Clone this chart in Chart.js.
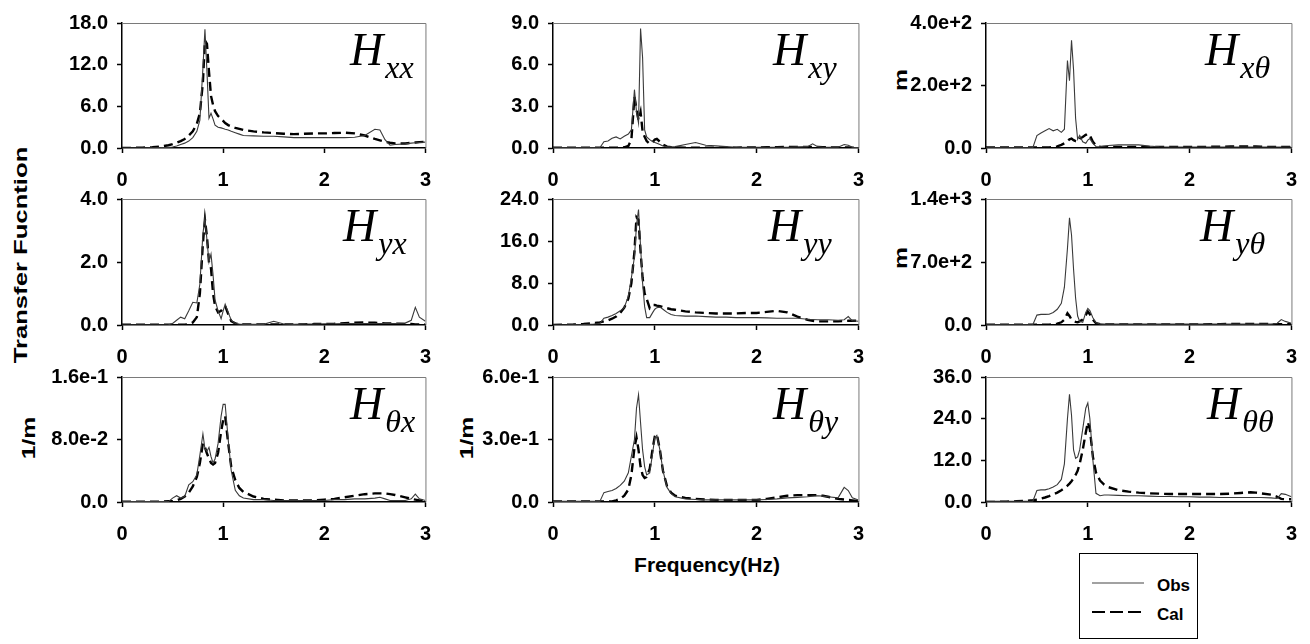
<!DOCTYPE html>
<html>
<head>
<meta charset="utf-8">
<script src="https://cdn.jsdelivr.net/npm/chart.js@4.4.1/dist/chart.umd.min.js"></script>
<style>
  body { margin: 0; background: #fff; }
  #fig { position: relative; width: 1310px; height: 644px; overflow: hidden;
         font-family: "Liberation Sans", Arial, sans-serif; background: #fff; }
  #fig canvas { position: absolute; }
  .lab { position: absolute; font-weight: bold; color: #000; white-space: nowrap; line-height: 1; }
  .rot { transform: translate(-50%, -50%) rotate(-90deg) scaleX(var(--sx, 1)); }
  .ctr { transform: translate(-50%, -50%); }
  #legend { position: absolute; left: 1079px; top: 553px; width: 119px; height: 86px;
            border: 1px solid #000; box-sizing: border-box; }
  #legend svg { position: absolute; left: 0; top: 0; }
  #legend span { position: absolute; left: 77px; font-weight: bold; font-size: 17px; line-height: 1; }
</style>
</head>
<body>
<div id="fig">
  <div class="lab rot" style="left:20px; top:255px; font-size:19px; --sx:1.35;">Transfer Fucntion</div>
  <div class="lab rot" style="left:28px; top:438px; font-size:19px; --sx:1.3;">1/m</div>
  <div class="lab rot" style="left:466px; top:438px; font-size:19px; --sx:1.3;">1/m</div>
  <div class="lab rot" style="left:900px; top:80px; font-size:19px; --sx:1.3;">m</div>
  <div class="lab rot" style="left:900px; top:258px; font-size:19px; --sx:1.3;">m</div>
  <div class="lab ctr" style="left:707px; top:564px; font-size:21px;">Frequency(Hz)</div>
  <div id="legend">
    <svg width="119" height="86">
      <line x1="12" y1="29" x2="64" y2="29" stroke="#444" stroke-width="1.2"/>
      <line x1="12" y1="58" x2="64" y2="58" stroke="#000" stroke-width="2" stroke-dasharray="13 5"/>
    </svg>
    <span style="top:23px;">Obs</span>
    <span style="top:52px;">Cal</span>
  </div>
</div>
<script>
// Frequency grid (Hz) shared by every curve
const freq = [0, 0.1, 0.2, 0.3, 0.4, 0.46,
  0.5, 0.54, 0.58, 0.62, 0.66, 0.7, 0.74, 0.77,
  0.8, 0.82, 0.84, 0.86, 0.88, 0.9, 0.92, 0.95, 0.98,
  1.0, 1.02, 1.05, 1.08, 1.12, 1.16, 1.2,
  1.3, 1.4, 1.5, 1.6, 1.7, 1.8, 1.9, 2.0,
  2.1, 2.2, 2.3, 2.4, 2.5, 2.55, 2.6, 2.65, 2.7,
  2.8, 2.86, 2.9, 2.94, 3.0];

// H_xx
const hxxObs = [0, 0, 0, 0.02, 0.05, 0.08,
  0.15, 0.3, 0.5, 0.7, 1.0, 1.5, 2.4, 4.0,
  11.5, 17.1, 11.0, 4.3, 5.0, 4.2, 3.3, 3.0, 2.9,
  2.8, 2.7, 2.6, 2.4, 2.2, 2.0, 1.8,
  1.75, 1.7, 1.7, 1.6, 1.5, 1.5, 1.5, 1.5,
  1.5, 1.5, 1.55, 1.8, 2.7, 2.6, 1.2, 0.4, 0.5,
  0.6, 0.7, 0.75, 0.8, 0.85];
const hxxCal = [0, 0.02, 0.05, 0.1, 0.25, 0.4,
  0.55, 0.75, 1.0, 1.3, 1.8, 2.4, 3.5, 5.0,
  9.5, 15.5, 15.0, 11.0, 7.5, 6.2, 5.3, 4.6, 4.2,
  3.9, 3.6, 3.3, 3.1, 2.9, 2.75, 2.6,
  2.4, 2.25, 2.15, 2.05, 2.0, 2.05, 2.1, 2.1,
  2.15, 2.2, 2.1, 1.8, 1.3, 1.1, 0.9, 0.75, 0.65,
  0.65, 0.75, 0.8, 0.85, 0.9];

// H_xy
const hxyObs = [0.02, 0.02, 0.02, 0.02, 0.02, 0.02,
  0.45, 0.5, 0.7, 0.8, 0.65, 0.85, 1.0, 1.3,
  4.2, 2.6, 1.8, 8.6, 6.5, 1.3, 0.8, 0.6, 0.45,
  0.4, 0.35, 0.25, 0.15, 0.08, 0.08, 0.1,
  0.25, 0.4, 0.2, 0.15, 0.1, 0.05, 0.05, 0.05,
  0.05, 0.05, 0.05, 0.08, 0.1, 0.3, 0.1, 0.05, 0.05,
  0.05, 0.25, 0.2, 0.05, 0.03];
const hxyCal = [0.03, 0.03, 0.03, 0.03, 0.03, 0.03,
  0.03, 0.03, 0.03, 0.03, 0.03, 0.05, 0.15, 0.6,
  3.7, 2.8, 2.0, 2.6, 1.2, 0.8, 0.5, 0.3, 0.45,
  0.6, 0.65, 0.45, 0.25, 0.1, 0.05, 0.04,
  0.03, 0.03, 0.03, 0.03, 0.03, 0.03, 0.04, 0.04,
  0.05, 0.06, 0.08, 0.08, 0.08, 0.08, 0.07, 0.06, 0.05,
  0.04, 0.04, 0.04, 0.03, 0.03];

// H_xθ
const hxtObs = [1, 1, 1, 1, 1, 1,
  40, 48, 55, 62, 55, 60, 50, 60,
  280, 215, 345, 250, 95, 28, 40, 20, 15,
  25, 30, 15, 5, 4, 6, 8,
  10, 10, 10, 6, 4, 3, 3, 3,
  3, 3, 3, 3, 3, 3, 3, 3, 3,
  3, 3, 3, 3, 3];
const hxtCal = [2, 2, 2, 2, 2, 2,
  2, 2, 2, 2, 3, 5, 10, 15,
  22, 28, 30, 25, 22, 20, 30, 35, 42,
  46, 40, 20, 8, 4, 3, 3,
  3, 3, 3, 3, 3, 3, 3, 3,
  3, 4, 4, 5, 5, 5, 5, 5, 4,
  3, 3, 3, 3, 3];

// H_yx
const hyxObs = [0, 0, 0, 0, 0, 0.01,
  0.05, 0.15, 0.25, 0.2, 0.45, 0.72, 0.7, 1.3,
  2.9, 3.4, 2.7, 2.0, 2.25, 1.6, 0.8, 0.45, 0.2,
  0.45, 0.66, 0.4, 0.15, 0.05, 0.03, 0.02,
  0.02, 0.02, 0.12, 0.03, 0.02, 0.03, 0.03, 0.04,
  0.04, 0.05, 0.05, 0.05, 0.05, 0.05, 0.05, 0.05, 0.05,
  0.06, 0.15, 0.56, 0.25, 0.12];
const hyxCal = [0.01, 0.01, 0.01, 0.01, 0.01, 0.01,
  0.01, 0.01, 0.01, 0.01, 0.03, 0.08, 0.25, 1.0,
  2.6, 3.35, 2.8, 2.0, 1.8, 1.0, 0.6, 0.4, 0.45,
  0.55, 0.6, 0.35, 0.12, 0.05, 0.03, 0.02,
  0.02, 0.02, 0.02, 0.02, 0.02, 0.02, 0.03, 0.03,
  0.04, 0.06, 0.07, 0.08, 0.07, 0.06, 0.05, 0.05, 0.04,
  0.03, 0.03, 0.02, 0.02, 0.02];

// H_yy
const hyyObs = [0, 0, 0.05, 0.1, 0.2, 0.3,
  1.3, 1.5, 1.8, 2.2, 2.7, 3.3, 5.5, 9.0,
  13, 19, 22, 15, 8, 3.5, 1.4, 1.4, 2.4,
  3.0, 3.3, 3.4, 3.0, 2.4, 2.0, 1.8,
  1.7, 1.7, 1.6, 1.5, 1.5, 1.4, 1.4, 1.4,
  1.35, 1.3, 1.3, 1.3, 1.1, 1.05, 1.0, 1.0, 1.0,
  0.9, 1.0, 1.6, 0.8, 0.7];
const hyyCal = [0, 0.05, 0.1, 0.2, 0.35, 0.5,
  0.7, 0.9, 1.2, 1.6, 2.3, 3.3, 5.0, 8.0,
  14, 20.5, 20, 14, 9, 6, 5.0, 3.2, 3.8,
  3.8, 3.7, 3.6, 3.4, 3.2, 3.0, 2.9,
  2.6, 2.4, 2.3, 2.2, 2.2, 2.2, 2.3, 2.3,
  2.5, 2.7, 2.4, 1.6, 1.0, 0.8, 0.7, 0.7, 0.7,
  0.7, 0.75, 0.8, 0.8, 0.8];

// H_yθ
const hytObs = [3, 3, 3, 3, 3, 3,
  110, 118, 118, 120, 140, 175, 240, 420,
  850, 1190, 1000, 620, 300, 100, 40, 30, 140,
  185, 160, 80, 25, 12, 10, 10,
  10, 10, 10, 10, 10, 10, 10, 10,
  10, 10, 10, 10, 10, 10, 10, 10, 10,
  10, 20, 60, 40, 20];
const hytCal = [3, 3, 3, 3, 3, 3,
  3, 3, 3, 3, 8, 15, 30, 60,
  130, 100, 60, 45, 35, 30, 40, 60, 110,
  150, 120, 60, 20, 10, 8, 6,
  5, 5, 5, 5, 5, 5, 5, 5,
  6, 8, 10, 12, 12, 12, 12, 12, 12,
  10, 10, 10, 10, 10];

// H_θx
const htxObs = [0.0005, 0.0005, 0.0005, 0.0005, 0.0005, 0.0005,
  0.005, 0.008, 0.005, 0.007, 0.022, 0.026, 0.035, 0.06,
  0.087, 0.068, 0.065, 0.07, 0.058, 0.05, 0.055, 0.075, 0.11,
  0.125, 0.125, 0.08, 0.04, 0.015, 0.008, 0.005,
  0.003, 0.003, 0.002, 0.002, 0.002, 0.002, 0.002, 0.002,
  0.003, 0.003, 0.004, 0.004, 0.005, 0.006, 0.004, 0.002, 0.002,
  0.002, 0.004, 0.01, 0.004, 0.002];
const htxCal = [0.0005, 0.0005, 0.0005, 0.0005, 0.0005, 0.001,
  0.001, 0.002, 0.004, 0.007, 0.012, 0.02, 0.032, 0.05,
  0.075, 0.07, 0.062, 0.056, 0.05, 0.048, 0.05, 0.063, 0.09,
  0.105, 0.11, 0.075, 0.045, 0.028, 0.018, 0.013,
  0.007, 0.004, 0.003, 0.002, 0.002, 0.002, 0.002, 0.003,
  0.004, 0.006, 0.008, 0.01, 0.011, 0.011, 0.011, 0.01, 0.009,
  0.006, 0.004, 0.003, 0.002, 0.002];

// H_θy
const htyObs = [0.003, 0.003, 0.003, 0.003, 0.003, 0.003,
  0.045, 0.05, 0.055, 0.065, 0.08, 0.1, 0.14, 0.22,
  0.3, 0.45, 0.515, 0.38, 0.25, 0.17, 0.13, 0.14, 0.24,
  0.31, 0.32, 0.25, 0.15, 0.07, 0.04, 0.025,
  0.015, 0.012, 0.01, 0.01, 0.01, 0.01, 0.01, 0.01,
  0.012, 0.015, 0.02, 0.022, 0.025, 0.028, 0.03, 0.028, 0.025,
  0.02, 0.07, 0.055, 0.02, 0.01];
const htyCal = [0.003, 0.003, 0.003, 0.003, 0.003, 0.003,
  0.003, 0.003, 0.003, 0.008, 0.015, 0.03, 0.06, 0.13,
  0.26, 0.31, 0.25, 0.17, 0.13, 0.115, 0.12, 0.16, 0.26,
  0.315, 0.325, 0.25, 0.15, 0.075, 0.045, 0.03,
  0.02, 0.015, 0.012, 0.01, 0.01, 0.01, 0.01, 0.01,
  0.015, 0.022, 0.03, 0.033, 0.033, 0.033, 0.033, 0.03, 0.025,
  0.015, 0.012, 0.01, 0.008, 0.005];

// H_θθ
const httObs = [0.2, 0.2, 0.2, 0.2, 0.2, 0.2,
  3.3, 3.5, 3.5, 3.8, 4.3, 5.0, 6.5, 11,
  24, 31, 25, 15, 12.6, 13, 15, 21, 27,
  28.5, 24, 12, 2.5, 1.8, 2.0, 2.0,
  1.9, 1.8, 1.8, 1.7, 1.6, 1.6, 1.5, 1.5,
  1.4, 1.4, 1.3, 1.3, 1.3, 1.3, 1.3, 1.3, 1.3,
  1.2, 1.0, 2.4, 2.2, 1.5];
const httCal = [0, 0.05, 0.1, 0.2, 0.35, 0.5,
  0.7, 1.0, 1.3, 1.7, 2.2, 2.7, 3.4, 4.0,
  4.7, 5.3, 6.0, 6.8, 7.8, 9, 11, 15, 20,
  23, 21, 13, 8.5, 6.2, 5.0, 4.3,
  3.4, 3.0, 2.7, 2.5, 2.4, 2.3, 2.3, 2.3,
  2.3, 2.3, 2.3, 2.4, 2.6, 2.7, 2.8, 2.7, 2.5,
  2.1, 1.5, 0.9, 0.8, 0.8];

// Axis ticks
const xTicks = [0, 1, 2, 3];
const hxxTicks = [0, 6, 12, 18];
const hxyTicks = [0, 3, 6, 9];
const hxtTicks = [0, 200, 400];
const hyxTicks = [0, 2, 4];
const hyyTicks = [0, 8, 16, 24];
const hytTicks = [0, 700, 1400];
const htxTicks = [0, 0.08, 0.16];
const htyTicks = [0, 0.3, 0.6];
const httTicks = [0, 12, 24, 36];

// Grid placement of the nine panels (pixels)
const colLeft = [122, 553, 986];
const colWidth = [308, 310, 310];
const rowTop = [18, 194, 372];
const rowHeight = [130, 131, 130];
const AXW = 95, PADT = 16, PADR = 16, XAH = 52;

const panels = [
  { sub: 'xx', obs: hxxObs, cal: hxxCal, ticks: hxxTicks, fmt: 'f', r: 0, c: 0, dx: 228 },
  { sub: 'xy', obs: hxyObs, cal: hxyCal, ticks: hxyTicks, fmt: 'f', r: 0, c: 1, dx: 220 },
  { sub: 'x\u03B8', obs: hxtObs, cal: hxtCal, ticks: hxtTicks, fmt: 'e', r: 0, c: 2, dx: 219 },
  { sub: 'yx', obs: hyxObs, cal: hyxCal, ticks: hyxTicks, fmt: 'f', r: 1, c: 0, dx: 221 },
  { sub: 'yy', obs: hyyObs, cal: hyyCal, ticks: hyyTicks, fmt: 'f', r: 1, c: 1, dx: 215 },
  { sub: 'y\u03B8', obs: hytObs, cal: hytCal, ticks: hytTicks, fmt: 'e', r: 1, c: 2, dx: 214 },
  { sub: '\u03B8x', obs: htxObs, cal: htxCal, ticks: htxTicks, fmt: 'e', r: 2, c: 0, dx: 228 },
  { sub: '\u03B8y', obs: htyObs, cal: htyCal, ticks: htyTicks, fmt: 'e', r: 2, c: 1, dx: 220 },
  { sub: '\u03B8\u03B8', obs: httObs, cal: httCal, ticks: httTicks, fmt: 'f', r: 2, c: 2, dx: 221 }
];

Chart.defaults.font.family = '"Liberation Sans", Arial, sans-serif';
Chart.defaults.color = '#000';

// Thin grey top and right edges of each plot frame
const frameEdges = {
  id: 'frameEdges',
  afterDatasetsDraw(chart) {
    const { ctx, chartArea: a } = chart;
    ctx.save();
    ctx.strokeStyle = '#7a7a7a';
    ctx.lineWidth = 1;
    ctx.beginPath();
    ctx.moveTo(a.left, a.top + 0.5);
    ctx.lineTo(a.right + 0.5, a.top + 0.5);
    ctx.lineTo(a.right + 0.5, a.bottom);
    ctx.stroke();
    ctx.restore();
  }
};

// Italic "H" with its subscript in the upper right of each plot
const panelTitle = {
  id: 'panelTitle',
  afterDraw(chart, args, opts) {
    const { ctx, chartArea: a } = chart;
    ctx.save();
    ctx.fillStyle = '#000';
    ctx.textAlign = 'left';
    ctx.textBaseline = 'alphabetic';
    const x = a.left + opts.dx;
    ctx.font = 'italic 46px "Liberation Serif", "Times New Roman", serif';
    ctx.fillText('H', x, a.top + 42);
    const w = ctx.measureText('H').width;
    ctx.font = 'italic 32px "Liberation Serif", "Times New Roman", serif';
    ctx.fillText(opts.sub, x + w + 2, a.top + 55);
    ctx.restore();
  }
};

const fmtTick = (v, fmt) => v === 0 ? '0.0' : (fmt === 'e' ? v.toExponential(1) : v.toFixed(1));
const toPoints = arr => freq.map((f, i) => ({ x: f, y: arr[i] }));

const fig = document.getElementById('fig');
panels.forEach(p => {
  const w = AXW + colWidth[p.c] + PADR;
  const h = PADT + rowHeight[p.r] + XAH;
  const cv = document.createElement('canvas');
  cv.width = w; cv.height = h;
  cv.style.left = (colLeft[p.c] - AXW) + 'px';
  cv.style.top = (rowTop[p.r] - PADT) + 'px';
  cv.style.width = w + 'px'; cv.style.height = h + 'px';
  fig.appendChild(cv);

  const yMax = p.ticks[p.ticks.length - 1];
  new Chart(cv, {
    type: 'line',
    data: {
      datasets: [
        { label: 'Obs', data: toPoints(p.obs), borderColor: '#3a3a3a', borderWidth: 1.1,
          pointRadius: 0, tension: 0, fill: false },
        { label: 'Cal', data: toPoints(p.cal), borderColor: '#000', borderWidth: 2.4,
          borderDash: [9, 5], pointRadius: 0, tension: 0, fill: false }
      ]
    },
    options: {
      responsive: false,
      animation: false,
      devicePixelRatio: 1,
      events: [],
      layout: { padding: { top: PADT, right: PADR, left: 0, bottom: 0 } },
      plugins: {
        legend: { display: false },
        tooltip: { enabled: false },
        panelTitle: { dx: p.dx, sub: p.sub }
      },
      scales: {
        x: {
          type: 'linear', min: 0, max: 3,
          afterBuildTicks: s => { s.ticks = xTicks.map(v => ({ value: v })); },
          afterFit: s => { s.height = XAH; },
          ticks: { callback: v => String(v), padding: 15, maxRotation: 0,
                   font: { size: 20, weight: 'bold' }, color: '#000' },
          grid: { display: true, drawOnChartArea: false, drawTicks: true, tickLength: 5,
                  tickColor: '#000', tickWidth: 1.5 },
          border: { display: true, color: '#000', width: 1.5 }
        },
        y: {
          type: 'linear', min: 0, max: yMax,
          afterBuildTicks: s => { s.ticks = p.ticks.map(v => ({ value: v })); },
          afterFit: s => { s.width = AXW; },
          ticks: { callback: v => fmtTick(v, p.fmt), padding: 9,
                   font: { size: 20, weight: 'bold' }, color: '#000' },
          grid: { display: true, drawOnChartArea: false, drawTicks: true, tickLength: 5,
                  tickColor: '#000', tickWidth: 1.5 },
          border: { display: true, color: '#000', width: 1.5 }
        }
      }
    },
    plugins: [frameEdges, panelTitle]
  });
});
</script>
</body>
</html>
